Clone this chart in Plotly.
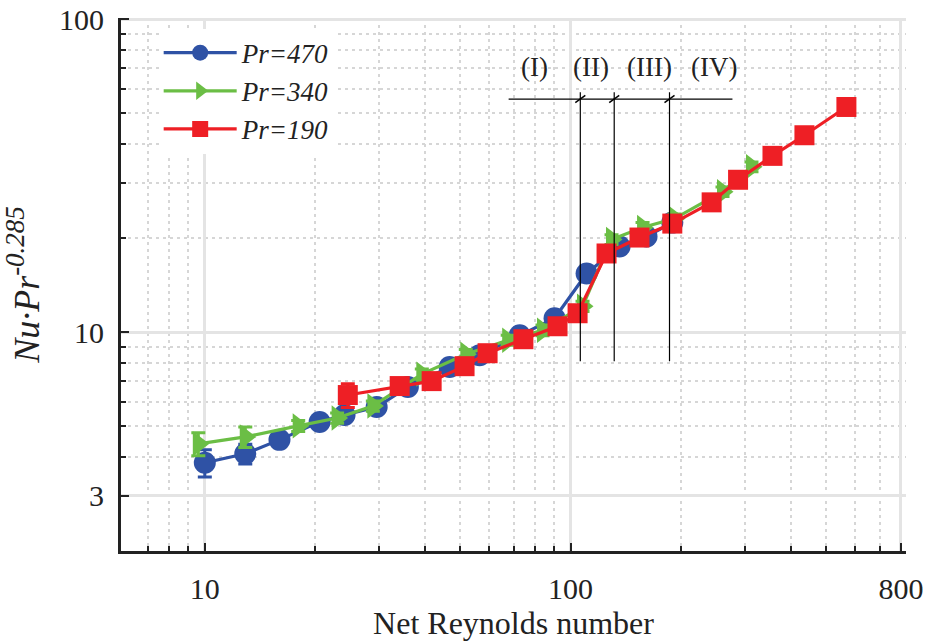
import numpy as np
import plotly.graph_objects as go

# ---------------- data ----------------
re_470 = [10.0, 12.9, 16.0, 20.6, 24.1, 29.5, 35.9, 46.7, 56.4, 72.6, 90.4, 110.6, 136.1, 161.3, 189.7]
nu_470 = [3.83, 4.09, 4.53, 5.17, 5.44, 5.77, 6.68, 7.74, 8.45, 9.78, 11.08, 15.41, 18.79, 20.22, 22.40]
err_470 = [0.38, 0.30, 0.20, 0.20, 0.20, 0.22, 0.25, 0.30, 0.30, 0.35, 0.40, 0.50, 0.60, 0.60, 0.70]

re_340 = [9.6, 12.9, 18.0, 23.0, 28.8, 39.2, 51.7, 67.3, 83.8, 107.8, 129.4, 157.3, 192.4, 260.2, 312.3]
nu_340 = [4.40, 4.63, 5.02, 5.32, 5.81, 7.35, 8.51, 9.43, 10.15, 12.10, 19.78, 21.60, 23.07, 28.12, 33.79]
err_340 = [0.37, 0.35, 0.20, 0.20, 0.22, 0.28, 0.30, 0.35, 0.40, 0.45, 0.70, 0.80, 0.80, 1.00, 1.20]

re_190 = [24.6, 34.1, 41.7, 51.3, 59.3, 74.3, 92.1, 104.5, 125.4, 154.3, 189.7, 243.0, 287.0, 356.4, 435.8, 567.6]
nu_190 = [6.30, 6.73, 6.98, 7.79, 8.57, 9.50, 10.45, 11.50, 17.85, 20.07, 22.24, 26.00, 30.70, 36.60, 42.60, 52.45]
err_190 = [0.55, 0.25, 0.25, 0.28, 0.30, 0.35, 0.40, 0.40, 0.65, 0.70, 0.80, 0.90, 1.10, 1.30, 1.50, 1.80]

series_names = ["Pr=470", "Pr=340", "Pr=190"]

# regime boundaries and labels
boundary_re = [106.3, 131.6, 186.4]
bracket_re = [67.7, 277.0]
bracket_nu = 55.6
boundary_nu_bottom = 8.08
boundary_nu_top = 58.5
region_labels = ["(I)", "(II)", "(III)", "(IV)"]
region_label_re = [79.7, 113.9, 164.4, 247.4]
region_label_nu = 70.3

x_tick_vals = [10, 100, 800]
x_minor_vals = [7, 8, 9, 20, 30, 40, 50, 60, 70, 80, 90, 200, 300, 400, 500, 600, 700]
y_tick_vals = [3, 10, 100]
y_minor_vals = [4, 5, 6, 7, 8, 9, 20, 30, 40, 50, 60, 70, 80, 90]

# ---------------- styling ----------------
FONT = "Liberation Serif"
BLUE = "#2F52A5"
GREEN = "#6BBE45"
RED = "#EE1F25"
INK = "#222222"

fig = go.Figure()

specs = [
    (series_names[0], re_470, nu_470, err_470, BLUE, "circle", 22),
    (series_names[1], re_340, nu_340, err_340, GREEN, "triangle-right", 22),
    (series_names[2], re_190, nu_190, err_190, RED, "square", 20),
]
for name, x, y, e, color, symbol, size in specs:
    fig.add_trace(go.Scatter(
        x=x, y=y, mode="lines+markers", name="<i>" + name + "</i>",
        line=dict(color=color, width=3.2),
        marker=dict(symbol=symbol, size=size, color=color, line=dict(width=0)),
        error_y=dict(type="data", array=e, visible=True, color=color, thickness=3, width=7),
    ))

# regime boundary lines
line_style = dict(color="black", width=1.2)
fig.add_trace(go.Scatter(x=bracket_re, y=[bracket_nu, bracket_nu], mode="lines",
                         line=line_style, showlegend=False, hoverinfo="skip"))
for bx in boundary_re:
    fig.add_trace(go.Scatter(x=[bx, bx], y=[boundary_nu_bottom, boundary_nu_top], mode="lines",
                             line=line_style, showlegend=False, hoverinfo="skip"))
    # small break slash at the intersection
    fig.add_trace(go.Scatter(x=[bx / 1.032, bx * 1.032], y=[bracket_nu / 1.027, bracket_nu * 1.027],
                             mode="lines", line=dict(color="black", width=1.5),
                             showlegend=False, hoverinfo="skip"))

for lab, lx in zip(region_labels, region_label_re):
    fig.add_annotation(x=np.log10(lx), y=np.log10(region_label_nu), text=lab, showarrow=False,
                       font=dict(family=FONT, size=27, color=INK), xanchor="center", yanchor="middle")

axis_common = dict(
    type="log",
    showline=True, linecolor=INK, linewidth=3, mirror=False,
    ticks="inside", ticklen=8, tickwidth=2, tickcolor=INK,
    showgrid=True, gridcolor="#E4E4E4", gridwidth=3,
    zeroline=False, automargin=False, ticklabeloverflow="allow",
    tickfont=dict(family=FONT, size=30, color=INK),
)

fig.update_xaxes(
    **axis_common,
    range=[np.log10(5.9), np.log10(826)],
    tickmode="array", tickvals=x_tick_vals, ticktext=[str(v) for v in x_tick_vals],
    minor=dict(tickmode="array", tickvals=x_minor_vals, ticks="inside", ticklen=5, tickwidth=2,
               tickcolor=INK, showgrid=True, gridcolor="#D6D6D6", gridwidth=2, griddash="3px,4px"),
    ticklabelstandoff=9,
    title=dict(text="Net Reynolds number", font=dict(family=FONT, size=32, color=INK), standoff=4),
)
fig.update_yaxes(
    **axis_common,
    range=[np.log10(2), 2.004],
    tickmode="array", tickvals=y_tick_vals, ticktext=[str(v) for v in y_tick_vals],
    minor=dict(tickmode="array", tickvals=y_minor_vals, ticks="inside", ticklen=5, tickwidth=2,
               tickcolor=INK, showgrid=True, gridcolor="#D6D6D6", gridwidth=2, griddash="3px,4px"),
    ticklabelstandoff=8,
    title=dict(text="<i>Nu·Pr</i><sup><i><span style='font-size:27px'>-0.285</span></i></sup>",
               font=dict(family=FONT, size=36, color=INK), standoff=10),
)

fig.update_layout(
    width=933, height=641,
    margin=dict(l=121, r=27, t=18, b=90),
    paper_bgcolor="white", plot_bgcolor="white",
    showlegend=True,
    legend=dict(x=0.048, y=0.98, xanchor="left", yanchor="top", bgcolor="white",
                font=dict(family=FONT, size=27, color=INK), itemwidth=73,
                tracegroupgap=0, borderwidth=0),
)

fig.write_html("out.html")
